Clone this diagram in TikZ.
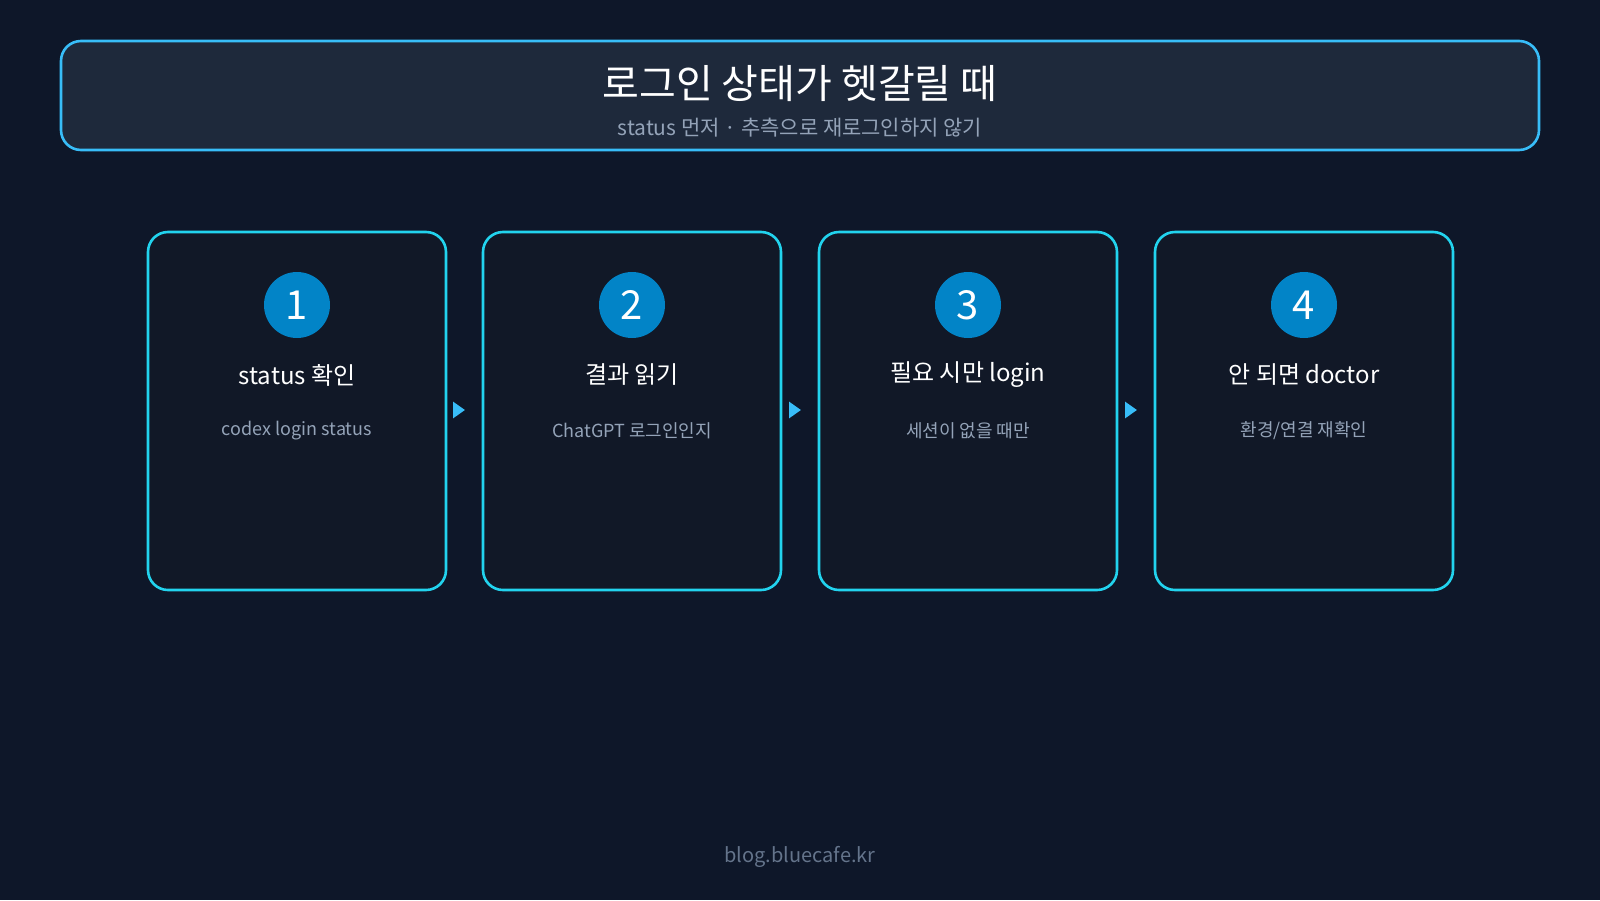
\documentclass[tikz,border=0pt]{standalone}
\usepackage{fontspec}
\setmainfont{Noto Sans CJK KR}
\usetikzlibrary{arrows.meta}
\definecolor{bg}{HTML}{0E1729}
\definecolor{tfill}{HTML}{1E293B}
\definecolor{cfill}{HTML}{111827}
\definecolor{cyanb}{HTML}{22D3EE}
\definecolor{tb}{HTML}{38BDF8}
\definecolor{circ}{HTML}{0284C7}
\definecolor{sub}{HTML}{94A3B8}
\definecolor{foot}{HTML}{64748B}
\begin{document}
\begin{tikzpicture}[x=0.5pt,y=-0.5pt,
 card/.style={draw=cyanb,line width=1.3pt,fill=cfill,rounded corners=10pt},
 num/.style={circle,fill=circ,minimum size=33pt,inner sep=0,text=white,font=\fontsize{20}{20}\selectfont},
 head/.style={text=white,font=\fontsize{12}{14}\selectfont},
 desc/.style={text=sub,font=\fontsize{9}{11}\selectfont},
 arr/.style={-{Triangle[length=6pt,width=8pt]},draw=tb,line width=2.2pt}]
\fill[bg] (0,0) rectangle (1600,900);
\useasboundingbox (0,0) rectangle (1600,900);
\draw[draw=tb,line width=1.3pt,fill=tfill,rounded corners=10pt] (61,41) rectangle (1539,150);
\node[text=white,font=\fontsize{20}{22}\selectfont] (title) at (800,84) {로그인 상태가 헷갈릴 때};
\node[text=sub,font=\fontsize{10.5}{13}\selectfont] (subt) at (800,128) {status 먼저 · 추측으로 재로그인하지 않기};
\foreach \i/\x/\h/\d in {1/148/{status 확인}/{codex login status},2/483/{결과 읽기}/{ChatGPT 로그인인지},3/819/{필요 시만 login}/{세션이 없을 때만},4/1155/{안 되면 doctor}/{환경/연결 재확인}}{
 \draw[card] (\x,232) rectangle ++(298,358);
 \node[num] (n\i) at (\x+149,305) {\i};
 \node[head] (h\i) at (\x+149,375) {\h};
 \node[desc] (d\i) at (\x+149,431) {\d};
 \coordinate (L\i) at (\x,410);
 \coordinate (R\i) at (\x+298,410);
}
\foreach \a/\b in {1/2,2/3,3/4}{
 \draw[arr] ([xshift=5]R\a) -- ([xshift=-9]L\b);
}
\node[text=foot,font=\fontsize{10}{12}\selectfont] (ft) at (800,857) {blog.bluecafe.kr};
\end{tikzpicture}
\end{document}
